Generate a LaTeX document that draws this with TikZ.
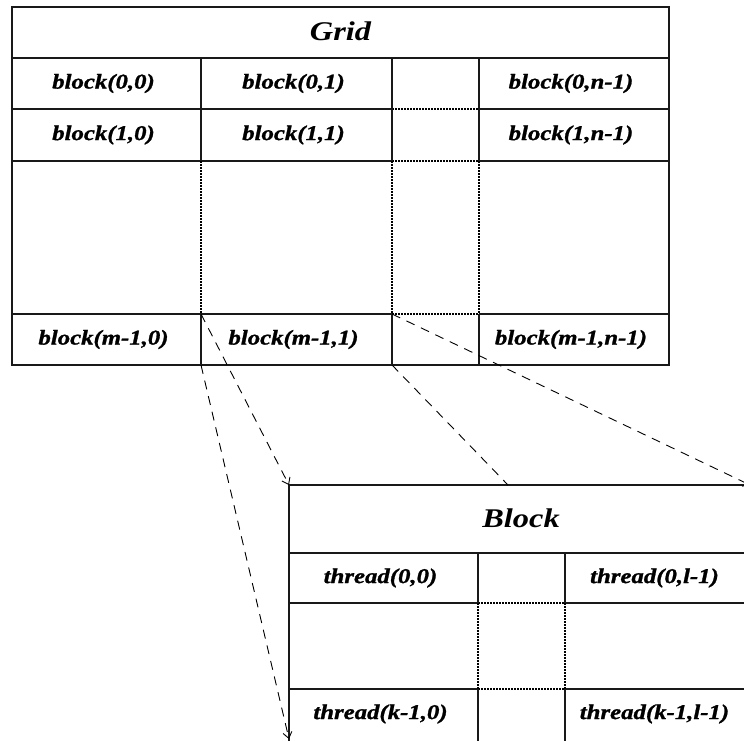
\documentclass[tikz,border=0pt]{standalone}
\usepackage{fontspec}
\setmainfont{Liberation Serif}
\newfontfamily\stretchfont{Liberation Serif}[FakeStretch=1.2]
\newfontfamily\cellfontfam{Liberation Serif}[FakeStretch=1.18, BoldItalicFeatures={FakeBold=1.2}]
\usetikzlibrary{arrows.meta}
\begin{document}
\begin{tikzpicture}[x=1pt,y=-1pt,
  solidline/.style={line width=1.2pt, draw=black!90},
  dotline/.style={line width=1.1pt, draw=black, dash pattern=on 1.6pt off 1.4pt},
  link/.style={line width=0.9pt, draw=black, dash pattern=on 9pt off 7pt},
  linkarrow/.style={link, -{Straight Barb[length=6pt,width=9pt,line width=0.9pt]}},
  cell/.style={font=\cellfontfam\bfseries\itshape\fontsize{21}{25}\selectfont, inner sep=0pt, xshift=-3pt},
  head/.style={font=\stretchfont\bfseries\itshape\fontsize{27}{32}\selectfont, inner sep=0pt}
]
\useasboundingbox (0,0) rectangle (744,740);
\clip (0,0) rectangle (744,740);
\fill[white] (0,0) rectangle (744,740);

% ---------- Grid ----------
\draw[solidline] (12,7) rectangle (669,365);
\draw[solidline] (12,58) -- (669,58);
\foreach \yy in {109,161,314}{
  \draw[solidline] (12,\yy) -- (392,\yy);
  \draw[dotline] (392,\yy) -- (479,\yy);
  \draw[solidline] (479,\yy) -- (669,\yy);
}
\foreach \xx in {201,392,479}{
  \draw[solidline] (\xx,58) -- (\xx,161);
  \draw[dotline] (\xx,161) -- (\xx,314);
  \draw[solidline] (\xx,314) -- (\xx,365);
}
\node[head] (gridtitle) at (340.5,31.5) {Grid};
\node[cell] (b00) at (106.5,83.5) {block(0,0)};
\node[cell] (b01) at (296.5,83.5) {block(0,1)};
\node[cell] (b0n) at (574,83.5) {block(0,n-1)};
\node[cell] (b10) at (106.5,135) {block(1,0)};
\node[cell] (b11) at (296.5,135) {block(1,1)};
\node[cell] (b1n) at (574,135) {block(1,n-1)};
\node[cell] (bm0) at (106.5,339.5) {block(m-1,0)};
\node[cell] (bm1) at (296.5,339.5) {block(m-1,1)};
\node[cell] (bmn) at (574,339.5) {block(m-1,n-1)};

% ---------- Block ----------
\draw[solidline] (289,741) -- (289,485) -- (750,485);
\draw[solidline] (750,485) -- (750,741);
\draw[solidline] (289,553) -- (750,553);
\foreach \yy in {603,689}{
  \draw[solidline] (289,\yy) -- (478,\yy);
  \draw[dotline] (478,\yy) -- (565,\yy);
  \draw[solidline] (565,\yy) -- (750,\yy);
}
\foreach \xx in {478,565}{
  \draw[solidline] (\xx,553) -- (\xx,603);
  \draw[dotline] (\xx,603) -- (\xx,689);
  \draw[solidline] (\xx,689) -- (\xx,741);
}
\node[head] (blocktitle) at (521,518) {Block};
\node[cell] (t00) at (383.5,578) {thread(0,0)};
\node[cell] (t0l) at (657.5,578) {thread(0,l-1)};
\node[cell] (tk0) at (383.5,714) {thread(k-1,0)};
\node[cell] (tkl) at (657.5,714) {thread(k-1,l-1)};

% ---------- connectors ----------
\coordinate (gA) at (201,314);
\coordinate (gB) at (201,365);
\coordinate (gC) at (392,314);
\coordinate (gD) at (392,365);
\coordinate (kTL) at (289,485);
\coordinate (kBL) at (289,739);
\coordinate (kTR) at (750,485);
\coordinate (kTop) at (508,485);
\draw[linkarrow] (gA) -- (kTL);
\draw[linkarrow] (gB) -- (kBL);
\draw[link] (gD) -- (kTop);
\draw[linkarrow] (gC) -- (kTR);
\end{tikzpicture}
\end{document}
